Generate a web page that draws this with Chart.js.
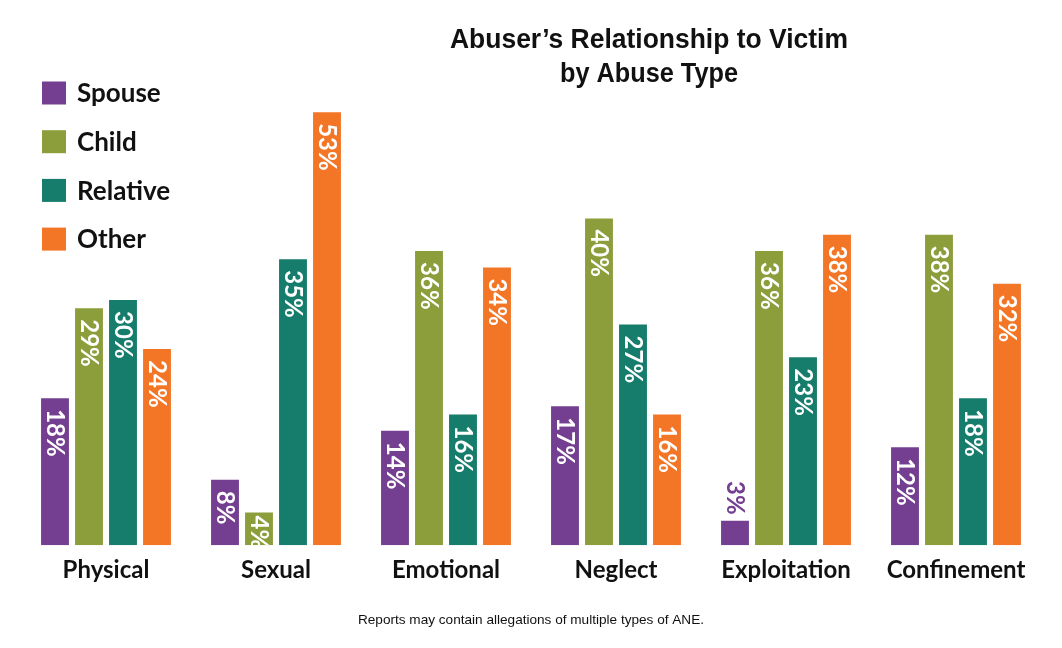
<html>
<head>
<style>
  body { margin: 0; background: #fff; }
  #wrap { width: 1062px; height: 648px; position: relative; }
</style>
</head>
<body>
<div id="wrap"><canvas id="myChart"></canvas></div>
<script src="https://cdn.jsdelivr.net/npm/chart.js@4.4.1/dist/chart.umd.min.js"></script>
<script>
    const abuseTypes = ["Physical", "Sexual", "Emotional", "Neglect", "Exploitation", "Confinement"];
    const spouse   = [18, 8, 14, 17, 3, 12];
    const child    = [29, 4, 36, 40, 36, 38];
    const relative = [30, 35, 16, 27, 23, 18];
    const other    = [24, 53, 34, 16, 38, 32];

    const titleLines = ["Abuser\u2019s Relationship to Victim", "by Abuse Type"];
    const footnote = "Reports may contain allegations of multiple types of ANE.";

    const colors = {
        Spouse: "#743f90",
        Child: "#8b9e3b",
        Relative: "#167c6b",
        Other: "#f37626"
    };

    const mkSet = (label, data) => ({
        label: label,
        data: data,
        backgroundColor: colors[label],
        borderWidth: 0,
        categoryPercentage: 0.8,
        barPercentage: 0.82
    });

    // condensed look for the title: squeeze a normal bold face to the width
    function narrowText(ctx, txt, cx, cy, targetW) {
        const w = ctx.measureText(txt).width;
        ctx.save();
        ctx.translate(cx, cy);
        ctx.scale(targetW / w, 1);
        ctx.fillText(txt, 0, 0);
        ctx.restore();
    }

    // value labels, title, legend and footnote drawn on the canvas
    const extras = {
        id: "extras",
        afterDatasetsDraw(chart) {
            const ctx = chart.ctx;
            ctx.save();
            ctx.font = "bold 24px Lato";
            ctx.textBaseline = "middle";
            chart.data.datasets.forEach((ds, i) => {
                const meta = chart.getDatasetMeta(i);
                meta.data.forEach((bar, j) => {
                    const v = ds.data[j];
                    const txt = v + "%";
                    const h = bar.base - bar.y;
                    const w = ctx.measureText(txt).width;
                    ctx.save();
                    if (v < 4) {
                        // too short: label goes above the bar
                        ctx.translate(bar.x, bar.y - 6 - w);
                        ctx.rotate(Math.PI / 2);
                        ctx.fillStyle = ds.backgroundColor;
                        ctx.textAlign = "left";
                        ctx.fillText(txt, 0, 0);
                    } else {
                        ctx.beginPath();
                        ctx.rect(bar.x - bar.width / 2, bar.y, bar.width, h);
                        ctx.clip();
                        const pad = h > 40 ? 11 : 3;
                        ctx.translate(bar.x, bar.y + pad);
                        ctx.rotate(Math.PI / 2);
                        ctx.fillStyle = "#fff";
                        ctx.textAlign = "left";
                        ctx.fillText(txt, 0, 0);
                    }
                    ctx.restore();
                });
            });
            ctx.restore();
        },
        afterDraw(chart) {
            const ctx = chart.ctx;
            ctx.save();
            // title
            ctx.fillStyle = "#111";
            ctx.textAlign = "center";
            ctx.textBaseline = "middle";
            ctx.font = "bold 28px 'Liberation Sans'";
            narrowText(ctx, titleLines[0], 649, 40, 398);
            narrowText(ctx, titleLines[1], 649, 74, 178);

            // legend
            ctx.textAlign = "left";
            ctx.font = "bold 26px Lato";
            chart.data.datasets.forEach((ds, i) => {
                const y = 93 + i * 48.7;
                ctx.fillStyle = ds.backgroundColor;
                ctx.fillRect(42, y - 11.5, 24, 23);
                ctx.fillStyle = "#111";
                ctx.fillText(ds.label, 77, y + 1);
            });

            // footnote
            ctx.textAlign = "center";
            ctx.font = "13.6px 'Liberation Sans'";
            ctx.fillStyle = "#111";
            ctx.fillText(footnote, 531, 620);
            ctx.restore();
        }
    };

    const chartJs = new Chart("myChart", {
        type: "bar",
        data: {
            labels: abuseTypes,
            datasets: [
                mkSet("Spouse", spouse),
                mkSet("Child", child),
                mkSet("Relative", relative),
                mkSet("Other", other)
            ]
        },
        options: {
            responsive: true,
            maintainAspectRatio: false,
            animation: false,
            layout: { padding: { left: 21, right: 21, top: 55, bottom: 52 } },
            plugins: {
                legend: { display: false },
                tooltip: { enabled: false }
            },
            scales: {
                x: {
                    grid: { display: false, drawTicks: false },
                    border: { display: false },
                    ticks: {
                        padding: 11,
                        color: "#111",
                        font: { family: "Lato", size: 24, weight: "bold" }
                    }
                },
                y: {
                    display: false,
                    min: 0,
                    max: 60
                }
            }
        },
        plugins: [extras]
    });
</script>
</body>
</html>
